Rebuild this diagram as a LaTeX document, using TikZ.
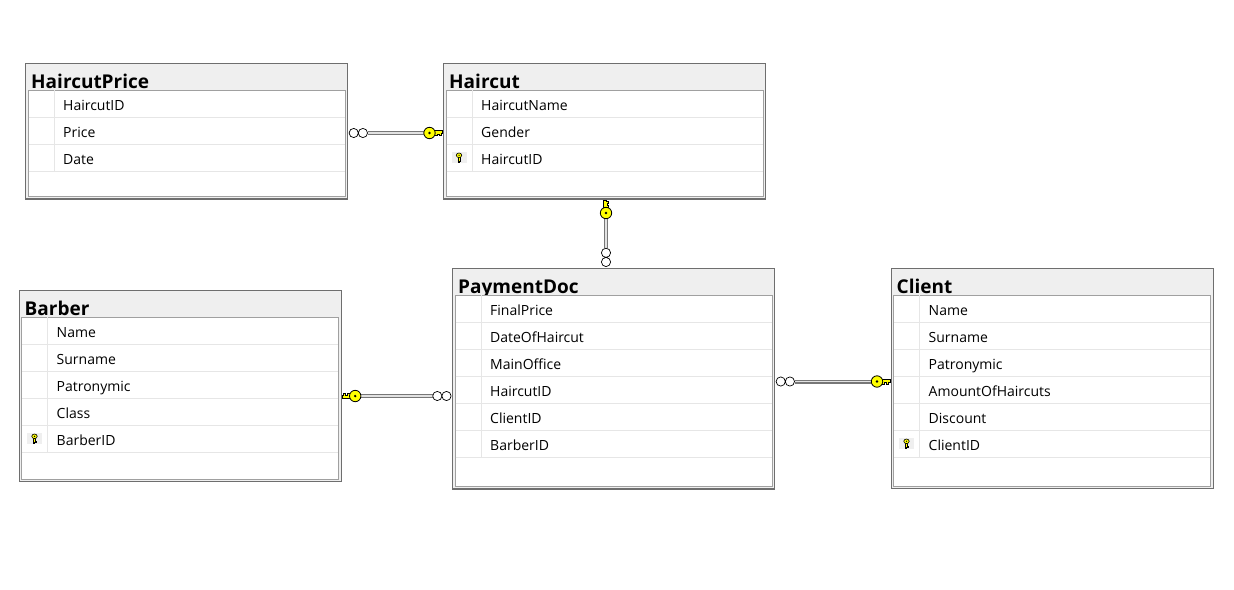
\documentclass[tikz,border=0pt]{standalone}
\usepackage{fontspec}
\setmainfont{Open Sans}
\usetikzlibrary{calc}

\definecolor{framegray}{HTML}{6E6E6E}
\definecolor{bandgray}{HTML}{EFEFEF}
\definecolor{innergray}{HTML}{A0A0A0}
\definecolor{rulegray}{HTML}{E6E6E6}
\definecolor{keyyellow}{HTML}{FFFF00}
\definecolor{tubedark}{HTML}{777777}
\definecolor{tubelight}{HTML}{E2E2E2}

\tikzset{
  tableouter/.style={rectangle, draw=framegray, line width=1.2pt, fill=bandgray,
    minimum width=322pt, inner sep=0pt, anchor=north west},
  tabletitle/.style={font=\fontsize{19}{21}\selectfont\bfseries, inner sep=0pt, anchor=base west},
  rowtext/.style={font=\fontsize{14}{16}\selectfont, inner sep=0pt, anchor=base west},
  tube/.style={draw=tubedark, double=tubelight, double distance=1.8pt, line width=1.1pt},
  % key end of a relationship: tip at the origin, key lying along -x
  bigkey/.pic={
    \filldraw[fill=keyyellow, draw=black, line width=0.8pt]
      (-9,-2.4) -- (0,-2.4) -- (0,0.6) -- (-1.6,0.6) -- (-1.6,2.4) -- (-3.6,2.4)
      -- (-3.6,1) -- (-5.2,1) -- (-5.2,2.4) -- (-9,2.4) -- cycle;
    \filldraw[fill=keyyellow, draw=black, line width=0.8pt] (-13,0) circle (5.7);
    \fill[black] (-13,0) circle (1.3);
  },
  % many end of a relationship: two rings starting at the origin along +x
  manyend/.pic={
    \draw[black, fill=white, line width=0.7pt] (5,0) circle (4.6) (14.2,0) circle (4.6);
  },
  % primary key marker in a column row
  rowkey/.pic={
    \fill[bandgray] (-7.5,-5.5) rectangle (7.5,5.5);
    \filldraw[fill=keyyellow, draw=black, line width=0.6pt]
      (-1.1,-0.8) -- (-1.1,4.6) -- (0.2,4.6) -- (0.2,3.8) -- (1.5,3.8) -- (1.5,2.6)
      -- (1.1,2.6) -- (1.1,-0.8) -- cycle;
    \filldraw[fill=keyyellow, draw=black, line width=0.6pt] (0,-2.2) ellipse [x radius=2.7, y radius=2.3];
    \fill[black] (0,-2.2) circle (0.7);
  }
}

% #1 id, #2 left, #3 top, #4 bottom, #5 title, #6 key row (0 = none), #7 columns
\newcommand{\erdtable}[7]{%
  \node[tableouter, minimum height={#4-#3}] (#1) at (#2,#3) {};
  \node[tabletitle] (#1-title) at ($(#1.north west)+(6,26)$) {#5};
  \draw[innergray, fill=white, line width=0.9pt]
    ($(#1.north west)+(3,27.5)$) rectangle ($(#1.south east)+(-3,-3)$);
  \foreach \r [count=\i] in {#7} {
    \pgfmathsetmacro\rt{27.5+27*(\i-1)}
    \draw[rulegray, line width=0.9pt]
      ($(#1.north west)+(3.5,\rt+27)$) -- ($(#1.north east)+(-3.5,\rt+27)$);
    \draw[rulegray, line width=0.9pt]
      ($(#1.north west)+(29,\rt)$) -- ($(#1.north west)+(29,\rt+27)$);
    \node[rowtext] (#1-\i) at ($(#1.north west)+(38,\rt+20)$) {\r};
    \ifnum\i=#6 \pic at ($(#1.north west)+(16,\rt+13.5)$) {rowkey}; \fi
  }
}

\begin{document}
\begin{tikzpicture}[x=1pt, y=-1pt]
  \fill[white] (0,0) rectangle (1234,589);
  \useasboundingbox (0,0) rectangle (1234,589);

  % tables
  \erdtable{hp}{25}{62.5}{198.3}{HaircutPrice}{0}{HaircutID, Price, Date}
  \erdtable{hc}{443}{62.5}{198.3}{Haircut}{3}{HaircutName, Gender, HaircutID}
  \erdtable{bb}{18.5}{289.5}{481}{Barber}{5}{Name, Surname, Patronymic, Class, BarberID}
  \erdtable{pd}{452}{267.5}{488.3}{PaymentDoc}{0}{FinalPrice, DateOfHaircut, MainOffice, HaircutID, ClientID, BarberID}
  \erdtable{cl}{890.5}{267.5}{488}{Client}{6}{Name, Surname, Patronymic, AmountOfHaircuts, Discount, ClientID}

  % relationship end points
  \coordinate (r1m) at ($(hp.north east)+(0.5,70.5)$);
  \coordinate (r1k) at ($(hc.north west)+(-0.5,70.5)$);
  \coordinate (r2k) at ($(hc.south west)+(163,0.5)$);
  \coordinate (r2m) at ($(pd.north west)+(154,-0.5)$);
  \coordinate (r3k) at ($(bb.north east)+(0.5,106.5)$);
  \coordinate (r3m) at ($(pd.north west)+(-0.5,128.5)$);
  \coordinate (r4m) at ($(pd.north east)+(0.5,114)$);
  \coordinate (r4k) at ($(cl.north west)+(-0.5,114)$);

  % relationship lines
  \draw[tube] ($(r1m)+(19,0)$) -- ($(r1k)+(-18,0)$);
  \draw[tube] ($(r2k)+(0,18)$) -- ($(r2m)+(0,-19)$);
  \draw[tube] ($(r3k)+(18,0)$) -- ($(r3m)+(-19,0)$);
  \draw[tube] ($(r4m)+(19,0)$) -- ($(r4k)+(-18,0)$);

  % relationship ends
  \pic at (r1m) {manyend};
  \pic at (r1k) {bigkey};
  \pic[rotate=90] at (r2k) {bigkey};
  \pic[rotate=90] at (r2m) {manyend};
  \pic[rotate=180] at (r3k) {bigkey};
  \pic[rotate=180] at (r3m) {manyend};
  \pic at (r4m) {manyend};
  \pic at (r4k) {bigkey};
\end{tikzpicture}
\end{document}
